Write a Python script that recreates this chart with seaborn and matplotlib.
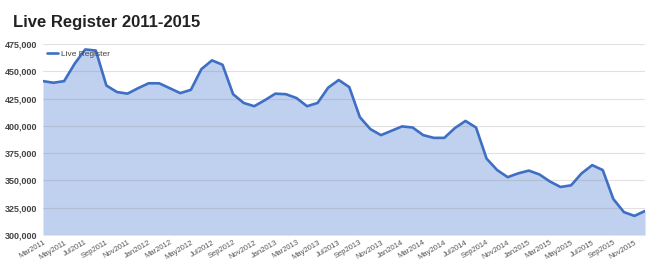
import matplotlib
matplotlib.use("Agg")
import matplotlib.pyplot as plt
import seaborn as sns
import pandas as pd
import numpy as np
from matplotlib.ticker import FuncFormatter

months = [
    "Mar2011", "Apr2011", "May2011", "Jun2011", "Jul2011", "Aug2011", "Sep2011", "Oct2011", "Nov2011", "Dec2011",
    "Jan2012", "Feb2012", "Mar2012", "Apr2012", "May2012", "Jun2012", "Jul2012", "Aug2012", "Sep2012", "Oct2012", "Nov2012", "Dec2012",
    "Jan2013", "Feb2013", "Mar2013", "Apr2013", "May2013", "Jun2013", "Jul2013", "Aug2013", "Sep2013", "Oct2013", "Nov2013", "Dec2013",
    "Jan2014", "Feb2014", "Mar2014", "Apr2014", "May2014", "Jun2014", "Jul2014", "Aug2014", "Sep2014", "Oct2014", "Nov2014", "Dec2014",
    "Jan2015", "Feb2015", "Mar2015", "Apr2015", "May2015", "Jun2015", "Jul2015", "Aug2015", "Sep2015", "Oct2015", "Nov2015", "Dec2015",
]

live_register = [
    441000, 439500, 441000, 457000, 470000, 469000, 437000, 431000, 429500, 434500,
    439000, 439000, 434500, 430000, 433000, 452000, 460000, 456000, 429000, 421000, 418000, 423500,
    429500, 429000, 425500, 418000, 421000, 435000, 442000, 435500, 408000, 397000, 391500, 395500,
    399500, 398500, 391500, 389000, 389000, 398000, 404500, 398500, 370000, 359500, 353000, 356500,
    359000, 355500, 349000, 344000, 345500, 356500, 364000, 359500, 333000, 321000, 317500, 322000,
]

y_ticks = [300000, 325000, 350000, 375000, 400000, 425000, 450000, 475000]

df = pd.DataFrame({"month": months, "idx": range(len(months)), "Live Register": live_register})

sns.set_style("white")
plt.rcParams["font.family"] = ["Liberation Sans", "DejaVu Sans"]

fig = plt.figure(figsize=(6.5, 2.69), dpi=100)
ax = fig.add_axes([43/650, (269-235)/269, (645-43)/650, (235-44)/269])

line_color = "#3e6fc4"
fill_color = "#bfd1ef"

ax.fill_between(df["idx"], df["Live Register"], 300000, color=fill_color, zorder=1, linewidth=0)
sns.lineplot(data=df, x="idx", y="Live Register", ax=ax, color=line_color, linewidth=1.9,
             label="Live Register", zorder=3)

ax.set_xlim(0, len(months) - 1)
ax.set_ylim(300000, 475000)
ax.set_yticks(y_ticks)
ax.yaxis.set_major_formatter(FuncFormatter(lambda v, p: f"{int(v):,}"))
ax.tick_params(axis="y", labelsize=6.5, colors="#444444", length=0, pad=4)
for t in ax.get_yticklabels():
    t.set_fontweight("bold")

tick_pos = list(range(0, len(months), 2))
ax.set_xticks(tick_pos)
ax.set_xticklabels([months[i] for i in tick_pos], rotation=30, ha="right",
                   rotation_mode="anchor", fontsize=5.5, color="#555555")
ax.tick_params(axis="x", length=0, pad=3)

ax.grid(axis="y", color="#888888", alpha=0.25, linewidth=0.8, zorder=2)
ax.set_axisbelow(False)
for s in ax.spines.values():
    s.set_visible(False)
ax.set_xlabel("")
ax.set_ylabel("")

leg = ax.legend(loc="upper left", frameon=False, fontsize=6, handlelength=1.3,
                handletextpad=0.4, borderaxespad=0.1, bbox_to_anchor=(0.0, 0.99))
for t in leg.get_texts():
    t.set_color("#444444")

fig.text(13/650, 1 - 22/269, "Live Register 2011-2015", fontsize=12, fontweight="bold",
         color="#222222", va="center", ha="left")

fig.savefig("out.png", dpi=100)
